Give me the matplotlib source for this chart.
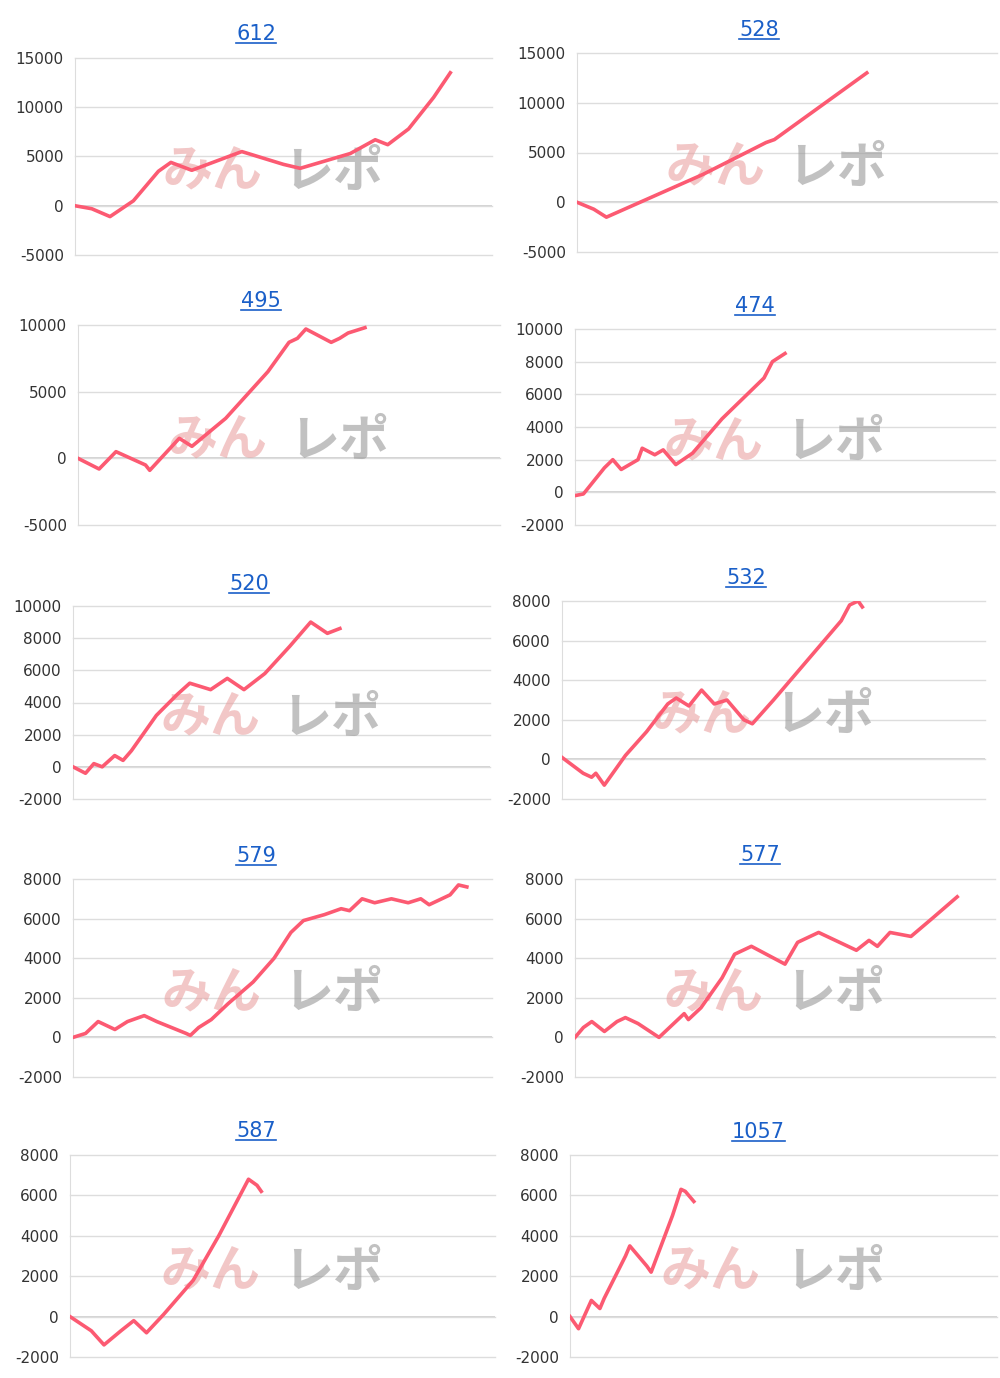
import matplotlib
matplotlib.use("Agg")
import matplotlib.pyplot as plt
from matplotlib.lines import Line2D

plt.rcParams["axes.unicode_minus"] = False
W, H = 1000, 1378

titles = ["612", "528", "495", "474", "520", "532", "579", "577", "587", "1057"]

# (x fraction of panel width, profit)
x612 = [0, .04, .084, .14, .2, .23, .28, .4, .5, .54, .66, .72, .75, .8, .86, .9]
y612 = [0, -300, -1100, 500, 3500, 4400, 3600, 5500, 4200, 3800, 5300, 6700, 6200, 7800, 11000, 13500]
x528 = [0, .04, .07, .3, .45, .47, .69]
y528 = [0, -700, -1500, 2800, 6000, 6300, 13000]
x495 = [0, .05, .09, .16, .17, .24, .27, .35, .45, .5, .52, .54, .6, .62, .64, .68]
y495 = [0, -800, 500, -500, -900, 1500, 900, 3000, 6500, 8700, 9000, 9700, 8700, 9000, 9400, 9800]
x474 = [0, .02, .07, .09, .11, .15, .16, .19, .21, .24, .28, .35, .45, .47, .5]
y474 = [-200, -100, 1500, 2000, 1400, 2000, 2700, 2300, 2600, 1700, 2400, 4500, 7000, 8000, 8500]
x520 = [0, .03, .05, .07, .1, .12, .14, .2, .25, .28, .33, .37, .41, .46, .52, .57, .61, .64]
y520 = [0, -400, 200, 0, 700, 400, 1000, 3200, 4500, 5200, 4800, 5500, 4800, 5800, 7500, 9000, 8300, 8600]
x532 = [0, .05, .07, .08, .1, .15, .2, .25, .27, .3, .33, .36, .39, .43, .45, .5, .6, .66, .68, .7, .71]
y532 = [100, -700, -900, -700, -1300, 200, 1400, 2800, 3100, 2700, 3500, 2800, 3000, 2000, 1800, 3000, 5500, 7000, 7800, 8000, 7700]
x579 = [0, .03, .06, .1, .13, .17, .2, .27, .28, .3, .33, .37, .43, .48, .52, .55, .6, .64, .66, .69, .72, .76, .8, .83, .85, .9, .92, .94]
y579 = [0, 200, 800, 400, 800, 1100, 800, 200, 100, 500, 900, 1700, 2800, 4000, 5300, 5900, 6200, 6500, 6400, 7000, 6800, 7000, 6800, 7000, 6700, 7200, 7700, 7600]
x577 = [0, .02, .04, .07, .1, .12, .15, .2, .23, .26, .27, .3, .35, .38, .42, .5, .53, .58, .64, .67, .7, .72, .75, .8, .85, .91]
y577 = [0, 500, 800, 300, 800, 1000, 700, 0, 600, 1200, 900, 1500, 3000, 4200, 4600, 3700, 4800, 5300, 4700, 4400, 4900, 4600, 5300, 5100, 6000, 7100]
x587 = [0, .05, .08, .12, .15, .18, .22, .29, .35, .4, .42, .44, .45]
y587 = [0, -700, -1400, -700, -200, -800, 100, 1800, 4000, 6000, 6800, 6500, 6200]
x1057 = [0, .02, .05, .07, .08, .13, .14, .18, .19, .24, .26, .27, .29]
y1057 = [0, -600, 800, 400, 900, 3000, 3500, 2500, 2200, 5000, 6300, 6200, 5700]

series = [(x612, y612), (x528, y528), (x495, y495), (x474, y474), (x520, y520),
          (x532, y532), (x579, y579), (x577, y577), (x587, y587), (x1057, y1057)]
ylims = [(-5000, 15000, 5000), (-5000, 15000, 5000), (-5000, 10000, 5000), (-2000, 10000, 2000),
         (-2000, 10000, 2000), (-2000, 8000, 2000), (-2000, 8000, 2000), (-2000, 8000, 2000),
         (-2000, 8000, 2000), (-2000, 8000, 2000)]
# pixel boxes: left, right, top, bottom
boxes = [(75, 492, 58, 255), (577, 997, 53, 252), (78, 500, 325, 525), (575, 995, 329, 525),
         (73, 490, 606, 799), (562, 985, 601, 799), (73, 492, 879, 1077), (575, 995, 879, 1077),
         (70, 495, 1155, 1357), (570, 997, 1155, 1357)]
title_x = [256, 759, 261, 755, 249, 746, 256, 760, 256, 758]
title_y = [40, 36, 307, 312, 590, 584, 862, 861, 1137, 1138]

fig = plt.figure(figsize=(W / 100, H / 100), dpi=100)
title_items = []
for i, (t, (xs, ys), (lo, hi, st), (l, r, tp, b)) in enumerate(zip(titles, series, ylims, boxes)):
    ax = fig.add_axes([l / W, 1 - b / H, (r - l) / W, (b - tp) / H])
    ax.plot(xs, ys, color="#fc5a72", lw=2.6, zorder=3)
    ax.set_xlim(0, 1)
    ax.set_ylim(lo, hi)
    ax.set_yticks(range(lo, hi + 1, st))
    ax.set_xticks([])
    ax.grid(axis="y", color="#dddddd", lw=1)
    for g in ax.get_ygridlines():
        g.set_clip_on(False)
    for s in ["top", "right", "bottom"]:
        ax.spines[s].set_visible(False)
    ax.spines["left"].set_color("#dddddd")
    ax.axhline(0, color="#cccccc", lw=1.2, zorder=1)
    ax.tick_params(axis="y", length=0, labelsize=11, labelcolor="#333333", pad=8)
    ax.text(0.33, 0.42, "みん", transform=ax.transAxes, fontsize=36, fontweight="bold",
            color="#e89a9a", alpha=0.55, family=["Noto Sans CJK JP"], ha="center", va="center",
            zorder=2)
    ax.text(0.62, 0.42, "レポ", transform=ax.transAxes, fontsize=36, fontweight="bold",
            color="#999999", alpha=0.6, family=["Noto Sans CJK JP"], ha="center", va="center",
            zorder=2)
    tt = fig.text(title_x[i] / W, 1 - title_y[i] / H, t, ha="center", va="baseline",
                  fontsize=15, color="#1a5fc8")
    title_items.append(tt)

fig.canvas.draw()
rend = fig.canvas.get_renderer()
for tt in title_items:
    bb = tt.get_window_extent(rend).transformed(fig.transFigure.inverted())
    yline = tt.get_position()[1] - 3 / H
    fig.add_artist(Line2D([bb.x0, bb.x1], [yline, yline],
                          transform=fig.transFigure, color="#1a5fc8", lw=1.2))

fig.savefig("out.png", dpi=100)
